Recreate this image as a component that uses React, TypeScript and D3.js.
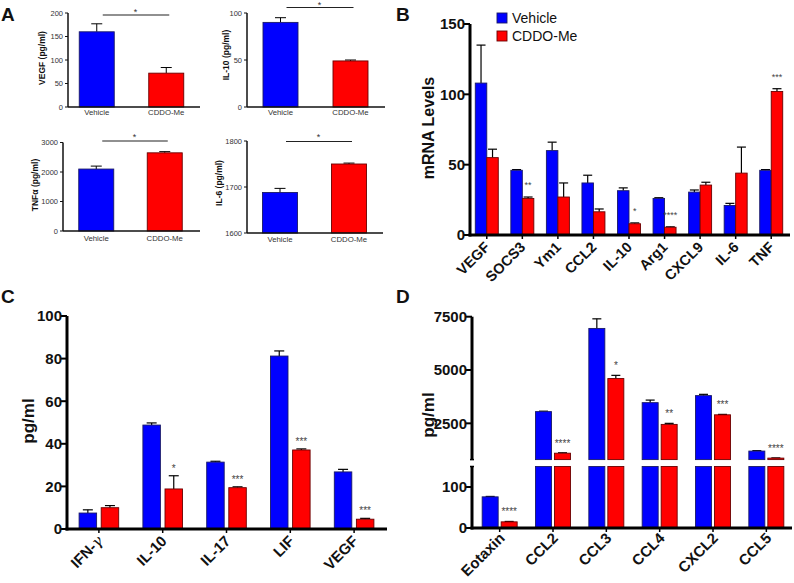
import React from "react";
import * as d3 from "d3";

const FONT = "'Liberation Sans', Arial, Helvetica, sans-serif";
const BLUE = "#0000ff";
const RED = "#ff0000";
const BLUE_EDGE = "#1a1a66";
const RED_EDGE = "#6a0000";

const groups = ["Vehicle", "CDDO-Me"];

// Panel A data
const aVegf = [160, 72];
const aVegfErr = [177, 84];
const aIl10 = [90, 49];
const aIl10Err = [95, 50];
const aTnf = [2100, 2650];
const aTnfErr = [2200, 2690];
const aIl6 = [1688, 1750];
const aIl6Err = [1697, 1752];
const aVegfTicks = [0, 50, 100, 150, 200];
const aIl10Ticks = [0, 50, 100];
const aTnfTicks = [0, 1000, 2000, 3000];
const aIl6Ticks = [1600, 1700, 1800];

// Panel B data
const bCats = ["VEGF", "SOCS3", "Ym1", "CCL2", "IL-10", "Arg1", "CXCL9", "IL-6", "TNF"];
const bVeh = [108, 46, 60, 37, 31.5, 26, 30.5, 21, 46];
const bVehErr = [135, 46.5, 66, 42.5, 33.5, 26.5, 32, 22.5, 46.5];
const bCddo = [55, 26, 27, 16.5, 8, 5.5, 35.5, 44, 102];
const bCddoErr = [61, 27, 37, 18.5, 8.6, 5.8, 37.5, 62.5, 104];
const bStars = ["", "**", "", "", "*", "****", "", "", "***"];
const bTicks = [0, 50, 100, 150];

// Panel C data
const cCats = ["IFN-γ", "IL-10", "IL-17", "LIF", "VEGF"];
const cVeh = [7.5, 48.8, 31.4, 81.2, 26.8];
const cVehErr = [9, 49.8, 31.8, 83.6, 28];
const cCddo = [10, 18.8, 19.4, 37.1, 4.6];
const cCddoErr = [11, 25, 19.8, 37.6, 5];
const cStars = ["", "*", "***", "***", "***"];
const cTicks = [0, 20, 40, 60, 80, 100];

// Panel D data
const dCats = ["Eotaxin", "CCL2", "CCL3", "CCL4", "CXCL2", "CCL5"];
const dVeh = [76, 3050, 6950, 3470, 3800, 1200];
const dVehErr = [77, 3070, 7400, 3590, 3860, 1220];
const dCddo = [15, 1100, 4600, 2450, 2900, 870];
const dCddoErr = [16, 1120, 4750, 2500, 2920, 880];
const dStars = ["****", "****", "*", "**", "***", "****"];
const dTicksLow = [0, 100];
const dTicksHigh = [2500, 5000, 7500];
const dBreakLow = 150;
const dBreakHigh = 800;

function ErrBar({ x, y0, y1, cap, sw = 1.2 }: any) {
  return (
    <g stroke="#000" strokeWidth={sw}>
      <line x1={x} x2={x} y1={y0} y2={y1} />
      <line x1={x - cap / 2} x2={x + cap / 2} y1={y1} y2={y1} />
    </g>
  );
}

function Bar({ x, w, y0, y1, fill, edge }: any) {
  return (
    <rect
      x={x}
      y={Math.min(y0, y1)}
      width={w}
      height={Math.abs(y0 - y1)}
      fill={fill}
      stroke={edge}
      strokeWidth={0.9}
    />
  );
}

function MiniPanel({ vals, errs, yDomain, yRange, ticks, bandRange, axisX, axisEnd, ylabel, ylabelX, ylabelY, catY, sigY, starY }: any) {
  const y = d3.scaleLinear().domain(yDomain).range(yRange);
  const x = d3.scaleBand().domain(groups).range(bandRange);
  const bw = 35;
  const c = (g: string) => (x(g) as number) + x.bandwidth() / 2;
  const colors = [BLUE, RED];
  const edges = [BLUE_EDGE, RED_EDGE];
  const base = yRange[0];
  return (
    <g fontFamily={FONT}>
      {groups.map((g, i) => (
        <g key={g}>
          <ErrBar x={c(g)} y0={y(vals[i])} y1={y(errs[i])} cap={11} sw={1} />
          <Bar x={c(g) - bw / 2} w={bw} y0={base} y1={y(vals[i])} fill={colors[i]} edge={edges[i]} />
          <text x={c(g)} y={catY} textAnchor="middle" fontSize={7.8} fill="#333">{g}</text>
        </g>
      ))}
      <line x1={axisX} x2={axisX} y1={yRange[1]} y2={base} stroke="#111" strokeWidth={1.5} />
      <line x1={axisX} x2={axisEnd} y1={base} y2={base} stroke="#111" strokeWidth={1.5} />
      {ticks.map((t: number) => (
        <g key={t}>
          <line x1={axisX - 3} x2={axisX} y1={y(t)} y2={y(t)} stroke="#111" strokeWidth={1} />
          <text x={axisX - 5} y={y(t)} dy="0.35em" textAnchor="end" fontSize={7.5} fill="#333">{t}</text>
        </g>
      ))}
      <text transform={`translate(${ylabelX},${ylabelY}) rotate(-90)`} textAnchor="middle" fontSize={8.5} fontWeight="bold" fill="#111">{ylabel}</text>
      <line x1={c(groups[0]) + 6} x2={c(groups[1]) + 3} y1={sigY} y2={sigY} stroke="#222" strokeWidth={1.2} />
      <text x={(c(groups[0]) + c(groups[1])) / 2 + 4} y={starY} textAnchor="middle" fontSize={9} fill="#333">*</text>
    </g>
  );
}

function RotLabel({ x, y, text, size }: any) {
  const isGamma = text.endsWith("γ");
  return (
    <text transform={`translate(${x},${y}) rotate(-45)`} textAnchor="end" fontSize={size} fontWeight="bold" fill="#111">
      {isGamma ? (
        <>
          {text.slice(0, -1)}
          <tspan fontWeight="normal" fontStyle="italic" fontFamily="'DejaVu Serif', serif">γ</tspan>
        </>
      ) : (
        text
      )}
    </text>
  );
}

function PanelB() {
  const x = d3.scaleBand().domain(bCats).range([469, 789]);
  const y = d3.scaleLinear().domain([0, 150]).range([235, 24]);
  const c = (k: string) => (x(k) as number) + x.bandwidth() / 2;
  const bw = 11.5;
  const base = y(0);
  return (
    <g fontFamily={FONT}>
      {bCats.map((k, i) => (
        <g key={k}>
          <ErrBar x={c(k) - bw / 2} y0={y(bVeh[i])} y1={y(bVehErr[i])} cap={9} />
          <ErrBar x={c(k) + bw / 2} y0={y(bCddo[i])} y1={y(bCddoErr[i])} cap={9} />
          <Bar x={c(k) - bw} w={bw} y0={base} y1={y(bVeh[i])} fill={BLUE} edge={BLUE_EDGE} />
          <Bar x={c(k)} w={bw} y0={base} y1={y(bCddo[i])} fill={RED} edge={RED_EDGE} />
          {bStars[i] && (
            <text x={c(k) + bw / 2} y={y(bCddoErr[i]) - 9} textAnchor="middle" fontSize={9} fill="#444">{bStars[i]}</text>
          )}
          <line x1={c(k)} x2={c(k)} y1={base} y2={base + 4} stroke="#000" strokeWidth={1.5} />
          <RotLabel x={c(k) + 4} y={base + 13} text={k} size={14.5} />
        </g>
      ))}
      <line x1={470} x2={470} y1={y(150)} y2={base + 1.5} stroke="#000" strokeWidth={3} />
      <line x1={468.5} x2={790} y1={base} y2={base} stroke="#000" strokeWidth={3} />
      {bTicks.map((t) => (
        <g key={t}>
          <line x1={464} x2={470} y1={y(t)} y2={y(t)} stroke="#000" strokeWidth={2} />
          <text x={465} y={y(t)} dy="0.36em" textAnchor="end" fontSize={15} fontWeight="bold" fill="#111">{t}</text>
        </g>
      ))}
      <text transform="translate(434,128) rotate(-90)" textAnchor="middle" fontSize={16} fontWeight="bold" fill="#111">mRNA Levels</text>
      <rect x={497} y={13} width={10} height={10} fill={BLUE} stroke={BLUE_EDGE} strokeWidth={0.9} />
      <text x={512} y={23} fontSize={14} fill="#111">{groups[0]}</text>
      <rect x={497} y={31} width={10} height={10} fill={RED} stroke={RED_EDGE} strokeWidth={0.9} />
      <text x={512} y={41} fontSize={14} fill="#111">{groups[1]}</text>
    </g>
  );
}

function PanelC() {
  const x = d3.scaleBand().domain(cCats).range([67, 386]);
  const y = d3.scaleLinear().domain([0, 100]).range([529, 316]);
  const c = (k: string) => (x(k) as number) + x.bandwidth() / 2;
  const bw = 17.5;
  const gap = 2.3;
  const base = y(0);
  return (
    <g fontFamily={FONT}>
      {cCats.map((k, i) => (
        <g key={k}>
          <ErrBar x={c(k) - gap - bw / 2} y0={y(cVeh[i])} y1={y(cVehErr[i])} cap={10} />
          <ErrBar x={c(k) + gap + bw / 2} y0={y(cCddo[i])} y1={y(cCddoErr[i])} cap={10} />
          <Bar x={c(k) - gap - bw} w={bw} y0={base} y1={y(cVeh[i])} fill={BLUE} edge={BLUE_EDGE} />
          <Bar x={c(k) + gap} w={bw} y0={base} y1={y(cCddo[i])} fill={RED} edge={RED_EDGE} />
          {cStars[i] && (
            <text x={c(k) + gap + bw / 2} y={y(cCddoErr[i]) - 4} textAnchor="middle" fontSize={10} fill="#444">{cStars[i]}</text>
          )}
          <line x1={c(k)} x2={c(k)} y1={base} y2={base + 4} stroke="#000" strokeWidth={1.5} />
          <RotLabel x={c(k) + 5} y={base + 13} text={k} size={15} />
        </g>
      ))}
      <line x1={67} x2={67} y1={y(100)} y2={base + 1.5} stroke="#000" strokeWidth={3} />
      <line x1={65.5} x2={387} y1={base} y2={base} stroke="#000" strokeWidth={3} />
      {cTicks.map((t) => (
        <g key={t}>
          <line x1={61} x2={67} y1={y(t)} y2={y(t)} stroke="#000" strokeWidth={2} />
          <text x={62} y={y(t)} dy="0.36em" textAnchor="end" fontSize={15} fontWeight="bold" fill="#111">{t}</text>
        </g>
      ))}
      <text transform="translate(34,421) rotate(-90)" textAnchor="middle" fontSize={17} fontWeight="bold" fill="#111">pg/ml</text>
    </g>
  );
}

function PanelD() {
  const x = d3.scaleBand().domain(dCats).range([473, 793]);
  const yLow = d3.scaleLinear().domain([0, dBreakLow]).range([528, 466.5]);
  const yHigh = d3.scaleLinear().domain([dBreakHigh, 7500]).range([459.6, 316.7]);
  const c = (k: string) => (x(k) as number) + x.bandwidth() / 2;
  const bw = 16;
  const gap = 1.5;
  const base = yLow(0);
  const yv = (v: number) => (v <= dBreakLow ? yLow(v) : yHigh(v));
  const segs = (bx: number, v: number, fill: string, edge: string) => (
    <>
      <Bar x={bx} w={bw} y0={base} y1={yLow(Math.min(v, dBreakLow))} fill={fill} edge={edge} />
      {v > dBreakHigh && <Bar x={bx} w={bw} y0={yHigh(dBreakHigh)} y1={yHigh(v)} fill={fill} edge={edge} />}
    </>
  );
  return (
    <g fontFamily={FONT}>
      {dCats.map((k, i) => (
        <g key={k}>
          <ErrBar x={c(k) - gap - bw / 2} y0={yv(dVeh[i])} y1={yv(dVehErr[i])} cap={9} />
          <ErrBar x={c(k) + gap + bw / 2} y0={yv(dCddo[i])} y1={yv(dCddoErr[i])} cap={9} />
          {segs(c(k) - gap - bw, dVeh[i], BLUE, BLUE_EDGE)}
          {segs(c(k) + gap, dCddo[i], RED, RED_EDGE)}
          {dStars[i] && (
            <text x={c(k) + gap + bw / 2} y={yv(dCddoErr[i]) - 6} textAnchor="middle" fontSize={10} fill="#444">{dStars[i]}</text>
          )}
          <line x1={c(k)} x2={c(k)} y1={base} y2={base + 4} stroke="#000" strokeWidth={1.5} />
          <RotLabel x={c(k) + 6} y={base + 11} text={k} size={15} />
        </g>
      ))}
      <line x1={472} x2={472} y1={yHigh(7500)} y2={yHigh(dBreakHigh)} stroke="#000" strokeWidth={3} />
      <line x1={472} x2={472} y1={yLow(dBreakLow)} y2={base + 1.5} stroke="#000" strokeWidth={3} />
      <line x1={470} x2={474} y1={yHigh(dBreakHigh)} y2={yHigh(dBreakHigh)} stroke="#000" strokeWidth={1.5} />
      <line x1={470} x2={474} y1={yLow(dBreakLow)} y2={yLow(dBreakLow)} stroke="#000" strokeWidth={1.5} />
      <line x1={470.5} x2={792} y1={base} y2={base} stroke="#000" strokeWidth={3} />
      {dTicksHigh.map((t) => (
        <g key={t}>
          <line x1={466} x2={472} y1={yHigh(t)} y2={yHigh(t)} stroke="#000" strokeWidth={2} />
          <text x={467} y={yHigh(t)} dy="0.36em" textAnchor="end" fontSize={15} fontWeight="bold" fill="#111">{t}</text>
        </g>
      ))}
      {dTicksLow.map((t) => (
        <g key={t}>
          <line x1={466} x2={472} y1={yLow(t)} y2={yLow(t)} stroke="#000" strokeWidth={2} />
          <text x={467} y={yLow(t)} dy="0.36em" textAnchor="end" fontSize={15} fontWeight="bold" fill="#111">{t}</text>
        </g>
      ))}
      <text transform="translate(434,415) rotate(-90)" textAnchor="middle" fontSize={17} fontWeight="bold" fill="#111">pg/ml</text>
    </g>
  );
}

export default function App() {
  return (
    <svg width={794} height={583} style={{ position: "absolute", left: 0, top: 0, background: "#fff" }} fontFamily={FONT}>
      <rect width={794} height={583} fill="#fff" />
      <g fontFamily={FONT} fontWeight="bold" fontSize={19} fill="#111">
        <text x={1} y={21}>A</text>
        <text x={396} y={21}>B</text>
        <text x={1} y={303}>C</text>
        <text x={396} y={303}>D</text>
      </g>
      <MiniPanel vals={aVegf} errs={aVegfErr} yDomain={[0, 200]} yRange={[107, 13]} ticks={aVegfTicks}
        bandRange={[62, 201]} axisX={68} axisEnd={200} ylabel="VEGF (pg/ml)" ylabelX={45} ylabelY={58}
        catY={115} sigY={15} starY={15} />
      <MiniPanel vals={aIl10} errs={aIl10Err} yDomain={[0, 100]} yRange={[107, 13]} ticks={aIl10Ticks}
        bandRange={[245.5, 385.5]} axisX={247} axisEnd={385} ylabel="IL-10 (pg/ml)" ylabelX={229} ylabelY={55}
        catY={115} sigY={7.5} starY={8} />
      <MiniPanel vals={aTnf} errs={aTnfErr} yDomain={[0, 3000]} yRange={[231, 142.5]} ticks={aTnfTicks}
        bandRange={[62, 199]} axisX={63} axisEnd={200} ylabel="TNFα (pg/ml)" ylabelX={38} ylabelY={185}
        catY={241} sigY={141} starY={140} />
      <MiniPanel vals={aIl6} errs={aIl6Err} yDomain={[1600, 1800]} yRange={[233, 141]} ticks={aIl6Ticks}
        bandRange={[245.5, 383.5]} axisX={247} axisEnd={383} ylabel="IL-6 (pg/ml)" ylabelX={222} ylabelY={183}
        catY={242} sigY={141.5} starY={140} />
      <PanelB />
      <PanelC />
      <PanelD />
    </svg>
  );
}
